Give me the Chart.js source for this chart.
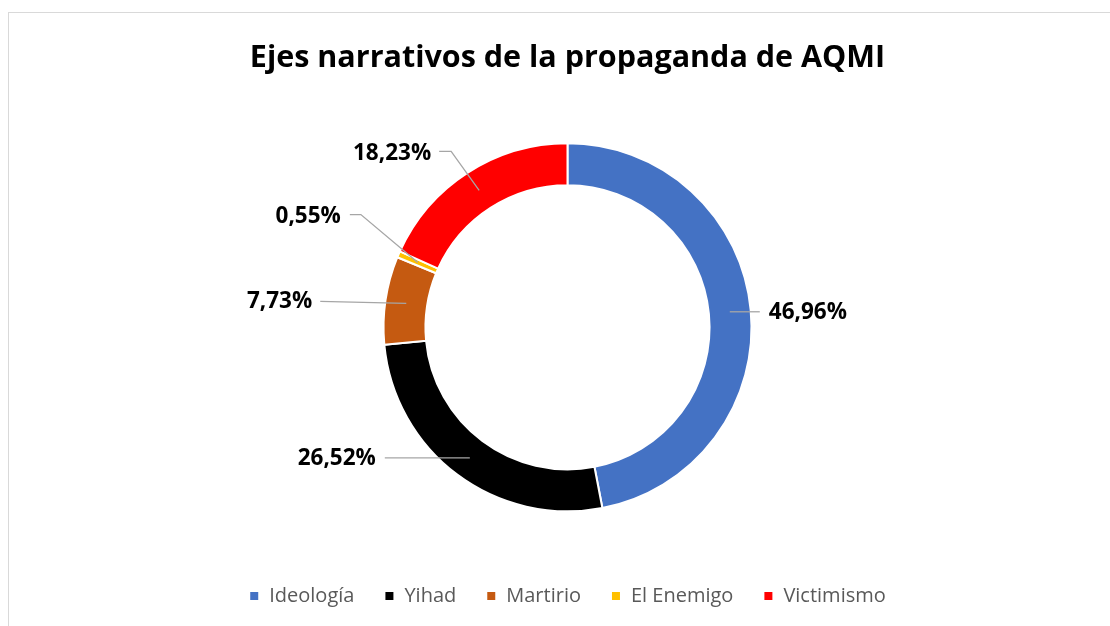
<!DOCTYPE html>
<html>
<head>
<meta charset="utf-8">
<script src="https://cdn.jsdelivr.net/npm/chart.js@4.4.1/dist/chart.umd.min.js"></script>
<style>
  html, body { margin: 0; padding: 0; background: #fff; overflow: hidden; width: 1110px; height: 626px; }
  #frame { position: absolute; left: 8px; top: 12px; width: 1119px; height: 640px; border-left: 1.5px solid #d9d9d9; border-top: 1.5px solid #d9d9d9; box-sizing: border-box; }
  #wrap { position: absolute; left: 8px; top: 12px; width: 1119px; height: 614px; }
</style>
</head>
<body>
<div id="frame"></div>
<div id="wrap"><canvas id="c"></canvas></div>
<script>
const titleText = 'Ejes narrativos de la propaganda de AQMI';
const categories = ['Ideología', 'Yihad', 'Martirio', 'El Enemigo', 'Victimismo'];
const shares = [46.96, 26.52, 7.73, 0.55, 18.23];
const colors = ['#4472C4', '#000000', '#C55A11', '#FFC000', '#FF0000'];

// label leader layout (relative to slice anchor), not data
const labelLayout = [
  { pts: [[30, 0]], align: 'left', dx: 9, dy: 1 },
  { pts: [[-85, 0]], align: 'right', dx: -9, dy: 1 },
  { pts: [[-86, -2]], align: 'right', dx: -8, dy: 0 },
  { pts: [[-57, -48], [-68, -48]], align: 'right', dx: -9, dy: 2 },
  { pts: [[-28, -39], [-40, -39]], align: 'right', dx: -8, dy: 2 }
];

const fmt = v => v.toFixed(2).replace('.', ',') + '%';

const labelPlugin = {
  id: 'leaderLabels',
  afterDatasetsDraw(chart) {
    const ctx = chart.ctx;
    const meta = chart.getDatasetMeta(0);
    ctx.save();
    meta.data.forEach((arc, i) => {
      const p = arc.getProps(['x', 'y', 'startAngle', 'endAngle', 'innerRadius', 'outerRadius'], true);
      const mid = (p.startAngle + p.endAngle) / 2;
      const r = (p.innerRadius + p.outerRadius) / 2;
      const ax = p.x + Math.cos(mid) * r;
      const ay = p.y + Math.sin(mid) * r;
      const L = labelLayout[i];
      ctx.beginPath();
      ctx.moveTo(ax, ay);
      let ex = ax, ey = ay;
      L.pts.forEach(pt => { ex = ax + pt[0]; ey = ay + pt[1]; ctx.lineTo(ex, ey); });
      ctx.strokeStyle = '#A6A6A6';
      ctx.lineWidth = 1.3;
      ctx.stroke();
      ctx.font = 'bold 22.5px "Open Sans"';
      ctx.fillStyle = '#000';
      ctx.textAlign = L.align;
      ctx.textBaseline = 'middle';
      ctx.fillText(fmt(chart.data.datasets[0].data[i]), ex + L.dx, ey + L.dy);
    });
    ctx.restore();
  }
};

new Chart(document.getElementById('c'), {
  type: 'doughnut',
  data: {
    labels: categories,
    datasets: [{
      data: shares,
      backgroundColor: colors,
      borderColor: '#ffffff',
      borderWidth: 2,
      radius: 184,
      cutout: '77.2%'
    }]
  },
  options: {
    responsive: true,
    maintainAspectRatio: false,
    animation: false,
    layout: { padding: { top: 0, bottom: 10, left: 0, right: 0 } },
    plugins: {
      title: {
        display: true,
        text: titleText,
        color: '#000',
        font: { family: 'Open Sans', size: 30.5, weight: 'bold' },
        padding: { top: 28, bottom: 22 }
      },
      legend: {
        position: 'bottom',
        labels: {
          color: '#595959',
          font: { family: 'Open Sans', size: 20 },
          boxWidth: 10,
          boxHeight: 10,
          padding: 30
        }
      },
      tooltip: { enabled: false }
    }
  },
  plugins: [labelPlugin]
});
</script>
</body>
</html>
